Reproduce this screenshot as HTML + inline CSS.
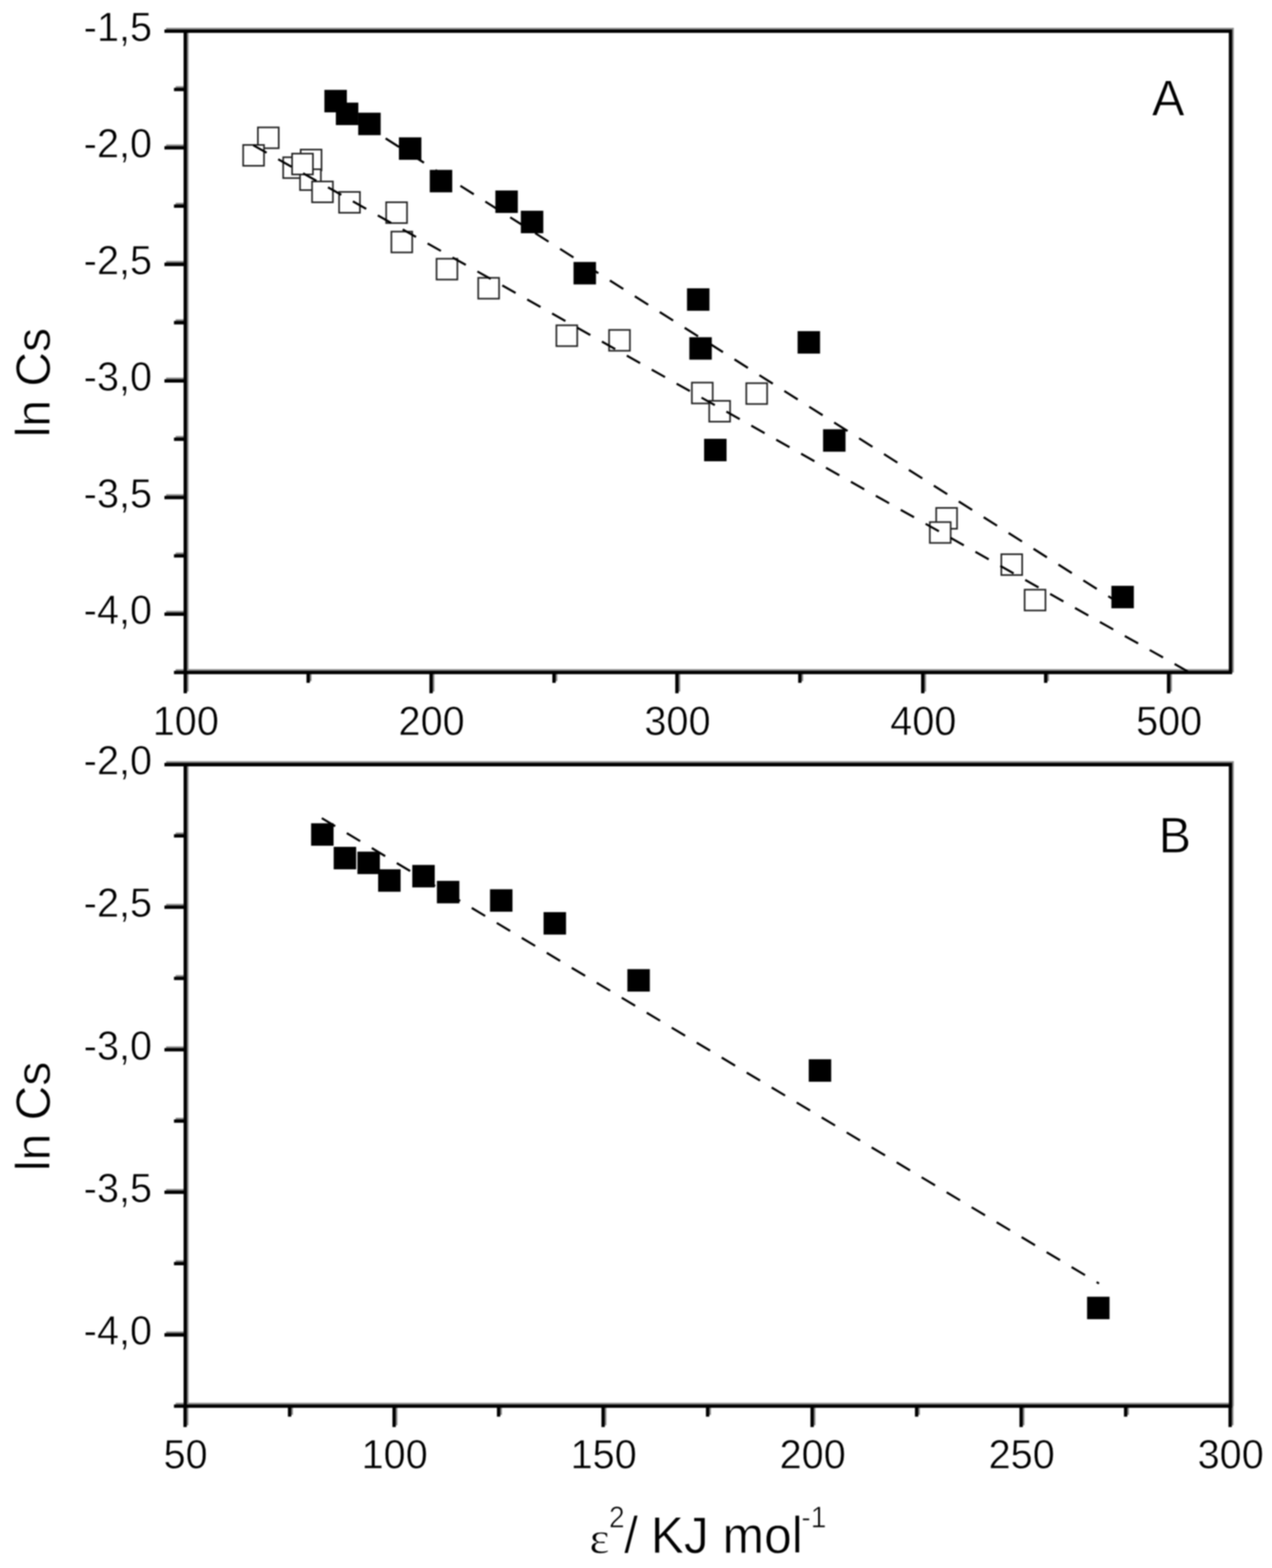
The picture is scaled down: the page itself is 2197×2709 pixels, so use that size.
<!DOCTYPE html>
<html lang="en"><head><meta charset="utf-8"><title>ln Cs vs ε² / KJ mol⁻¹</title>
<style>
html,body{margin:0;padding:0;background:#fff;}
body{width:2197px;height:2709px;}
svg{display:block;filter:blur(1px);}
text{font-family:"Liberation Sans",sans-serif;fill:#000;stroke:#fff;stroke-width:1px;}
.tk{font-size:68.5px;stroke-width:0.8px;}
.ax{fill:none;stroke:#000;stroke-width:5.8;stroke-linecap:butt;}
.sh{fill:none;stroke:#8c8c8c;stroke-width:5.8;stroke-linecap:butt;}
.f{fill:#000;stroke:none;}
.o{fill:#fff;stroke:#222;stroke-width:2.8;}
.d{stroke:#000;stroke-width:3.7;fill:none;}
</style></head><body>
<svg width="2197" height="2709" viewBox="0 0 2197 2709">
<rect width="2197" height="2709" fill="#fff"/>
<g id="axesA">
<path class="sh" transform="translate(2.9,-3.0)" d="M320.00 53.85H2125.30V1161.85H320.00ZM284.00 53.85H320.00M284.00 255.31H320.00M284.00 456.76H320.00M284.00 658.22H320.00M284.00 859.67H320.00M284.00 1061.12H320.00M300.50 154.58H320.00M300.50 356.03H320.00M300.50 557.49H320.00M300.50 758.94H320.00M300.50 960.40H320.00M300.50 1161.85H320.00M320.00 1161.85V1197.85M744.60 1161.85V1197.85M1169.20 1161.85V1197.85M1593.80 1161.85V1197.85M2018.40 1161.85V1197.85M532.30 1161.85V1179.85M956.90 1161.85V1179.85M1381.50 1161.85V1179.85M1806.10 1161.85V1179.85"/>
<path class="ax" d="M320.00 53.85H2125.30V1161.85H320.00ZM284.00 53.85H320.00M284.00 255.31H320.00M284.00 456.76H320.00M284.00 658.22H320.00M284.00 859.67H320.00M284.00 1061.12H320.00M300.50 154.58H320.00M300.50 356.03H320.00M300.50 557.49H320.00M300.50 758.94H320.00M300.50 960.40H320.00M300.50 1161.85H320.00M320.00 1161.85V1197.85M744.60 1161.85V1197.85M1169.20 1161.85V1197.85M1593.80 1161.85V1197.85M2018.40 1161.85V1197.85M532.30 1161.85V1179.85M956.90 1161.85V1179.85M1381.50 1161.85V1179.85M1806.10 1161.85V1179.85"/>
<text class="tk" text-anchor="end" transform="translate(262.6,70.8) scale(1,1.04)">-1,5</text>
<text class="tk" text-anchor="end" transform="translate(262.6,272.2) scale(1,1.04)">-2,0</text>
<text class="tk" text-anchor="end" transform="translate(262.6,473.7) scale(1,1.04)">-2,5</text>
<text class="tk" text-anchor="end" transform="translate(262.6,675.1) scale(1,1.04)">-3,0</text>
<text class="tk" text-anchor="end" transform="translate(262.6,876.6) scale(1,1.04)">-3,5</text>
<text class="tk" text-anchor="end" transform="translate(262.6,1078.0) scale(1,1.04)">-4,0</text>
<text class="tk" text-anchor="middle" transform="translate(320.9,1269.6) scale(1,1.04)">100</text>
<text class="tk" text-anchor="middle" transform="translate(745.5,1269.6) scale(1,1.04)">200</text>
<text class="tk" text-anchor="middle" transform="translate(1170.1,1269.6) scale(1,1.04)">300</text>
<text class="tk" text-anchor="middle" transform="translate(1594.7,1269.6) scale(1,1.04)">400</text>
<text class="tk" text-anchor="middle" transform="translate(2019.3,1269.6) scale(1,1.04)">500</text>
</g>
<g id="openA">
<rect class="o" x="445.40" y="220.10" width="36.00" height="36.00"/>
<rect class="o" x="420.00" y="250.40" width="36.00" height="36.00"/>
<rect class="o" x="519.30" y="258.40" width="36.00" height="36.00"/>
<rect class="o" x="489.10" y="271.70" width="36.00" height="36.00"/>
<rect class="o" x="518.20" y="292.40" width="36.00" height="36.00"/>
<rect class="o" x="504.50" y="265.40" width="36.00" height="36.00"/>
<rect class="o" x="539.00" y="313.50" width="36.00" height="36.00"/>
<rect class="o" x="585.70" y="331.60" width="36.00" height="36.00"/>
<rect class="o" x="667.00" y="349.40" width="36.00" height="36.00"/>
<rect class="o" x="676.00" y="400.10" width="36.00" height="36.00"/>
<rect class="o" x="754.00" y="447.00" width="36.00" height="36.00"/>
<rect class="o" x="826.00" y="480.00" width="36.00" height="36.00"/>
<rect class="o" x="961.00" y="562.00" width="36.00" height="36.00"/>
<rect class="o" x="1052.00" y="570.00" width="36.00" height="36.00"/>
<rect class="o" x="1195.00" y="661.00" width="36.00" height="36.00"/>
<rect class="o" x="1225.00" y="692.50" width="36.00" height="36.00"/>
<rect class="o" x="1289.00" y="662.00" width="36.00" height="36.00"/>
<rect class="o" x="1617.00" y="877.50" width="36.00" height="36.00"/>
<rect class="o" x="1606.00" y="902.00" width="36.00" height="36.00"/>
<rect class="o" x="1729.50" y="957.50" width="36.00" height="36.00"/>
<rect class="o" x="1769.75" y="1018.75" width="36.00" height="36.00"/>
</g>
<g id="solidA">
<rect class="f" x="560.30" y="155.30" width="38.80" height="38.80"/>
<rect class="f" x="580.10" y="177.30" width="38.80" height="38.80"/>
<rect class="f" x="618.70" y="194.70" width="38.80" height="38.80"/>
<rect class="f" x="689.00" y="237.30" width="38.80" height="38.80"/>
<rect class="f" x="742.30" y="293.50" width="38.80" height="38.80"/>
<rect class="f" x="855.60" y="329.10" width="38.80" height="38.80"/>
<rect class="f" x="899.60" y="364.10" width="38.80" height="38.80"/>
<rect class="f" x="990.60" y="452.60" width="38.80" height="38.80"/>
<rect class="f" x="1186.60" y="498.10" width="38.80" height="38.80"/>
<rect class="f" x="1190.60" y="582.60" width="38.80" height="38.80"/>
<rect class="f" x="1377.60" y="572.10" width="38.80" height="38.80"/>
<rect class="f" x="1421.60" y="741.60" width="38.80" height="38.80"/>
<rect class="f" x="1216.10" y="758.10" width="38.80" height="38.80"/>
<rect class="f" x="1919.60" y="1012.10" width="38.80" height="38.80"/>
</g>
<line class="d" stroke-dasharray="26.4 22.96" x1="437.5" y1="251" x2="2051.5" y2="1160"/>
<line class="d" stroke-dasharray="27.4 23.55" x1="580" y1="184.63" x2="1932" y2="1041.25"/>
<text transform="translate(1989.6,199.6) scale(1.02,1.05)" style="font-size:83px">A</text>
<g id="axesB">
<path class="sh" transform="translate(2.9,-3.0)" d="M320.00 1321.00H2125.30V2429.40H320.00ZM284.00 1321.00H320.00M284.00 1567.31H320.00M284.00 1813.62H320.00M284.00 2059.93H320.00M284.00 2306.24H320.00M300.50 1444.15H320.00M300.50 1690.47H320.00M300.50 1936.78H320.00M300.50 2183.09H320.00M300.50 2429.39H320.00M319.70 2429.40V2465.40M680.70 2429.40V2465.40M1041.70 2429.40V2465.40M1402.70 2429.40V2465.40M1763.70 2429.40V2465.40M2124.70 2429.40V2465.40M500.20 2429.40V2447.40M861.20 2429.40V2447.40M1222.20 2429.40V2447.40M1583.20 2429.40V2447.40M1944.20 2429.40V2447.40"/>
<path class="ax" d="M320.00 1321.00H2125.30V2429.40H320.00ZM284.00 1321.00H320.00M284.00 1567.31H320.00M284.00 1813.62H320.00M284.00 2059.93H320.00M284.00 2306.24H320.00M300.50 1444.15H320.00M300.50 1690.47H320.00M300.50 1936.78H320.00M300.50 2183.09H320.00M300.50 2429.39H320.00M319.70 2429.40V2465.40M680.70 2429.40V2465.40M1041.70 2429.40V2465.40M1402.70 2429.40V2465.40M1763.70 2429.40V2465.40M2124.70 2429.40V2465.40M500.20 2429.40V2447.40M861.20 2429.40V2447.40M1222.20 2429.40V2447.40M1583.20 2429.40V2447.40M1944.20 2429.40V2447.40"/>
<text class="tk" text-anchor="end" transform="translate(262.6,1337.9) scale(1,1.04)">-2,0</text>
<text class="tk" text-anchor="end" transform="translate(262.6,1584.2) scale(1,1.04)">-2,5</text>
<text class="tk" text-anchor="end" transform="translate(262.6,1830.5) scale(1,1.04)">-3,0</text>
<text class="tk" text-anchor="end" transform="translate(262.6,2076.8) scale(1,1.04)">-3,5</text>
<text class="tk" text-anchor="end" transform="translate(262.6,2323.1) scale(1,1.04)">-4,0</text>
<text class="tk" text-anchor="middle" transform="translate(320.6,2536.7) scale(1,1.04)">50</text>
<text class="tk" text-anchor="middle" transform="translate(681.6,2536.7) scale(1,1.04)">100</text>
<text class="tk" text-anchor="middle" transform="translate(1042.6,2536.7) scale(1,1.04)">150</text>
<text class="tk" text-anchor="middle" transform="translate(1403.6,2536.7) scale(1,1.04)">200</text>
<text class="tk" text-anchor="middle" transform="translate(1764.6,2536.7) scale(1,1.04)">250</text>
<text class="tk" text-anchor="middle" transform="translate(2125.6,2536.7) scale(1,1.04)">300</text>
</g>
<g id="solidB">
<rect class="f" x="537.35" y="1422.35" width="38.80" height="38.80"/>
<rect class="f" x="576.35" y="1463.10" width="38.80" height="38.80"/>
<rect class="f" x="617.35" y="1471.35" width="38.80" height="38.80"/>
<rect class="f" x="653.10" y="1501.85" width="38.80" height="38.80"/>
<rect class="f" x="712.10" y="1494.35" width="38.80" height="38.80"/>
<rect class="f" x="754.60" y="1521.85" width="38.80" height="38.80"/>
<rect class="f" x="846.35" y="1536.35" width="38.80" height="38.80"/>
<rect class="f" x="938.85" y="1575.85" width="38.80" height="38.80"/>
<rect class="f" x="1083.60" y="1674.35" width="38.80" height="38.80"/>
<rect class="f" x="1396.85" y="1830.10" width="38.80" height="38.80"/>
<rect class="f" x="1877.60" y="2240.35" width="38.80" height="38.80"/>
</g>
<line class="d" stroke-dasharray="27 23.32" x1="555.8" y1="1413.5" x2="1898.2" y2="2217.5"/>
<text transform="translate(2001.3,1473.3) scale(1,1.035)" style="font-size:84px">B</text>
<text transform="translate(85.5,755.6) rotate(-90)" style="font-size:83px">ln Cs</text>
<text transform="translate(85.5,2023.3) rotate(-90)" style="font-size:83px">ln Cs</text>
<g id="xtitle">
<text transform="translate(1018,2683) scale(1.09,1)" style="font-family:'Liberation Serif','DejaVu Serif',serif;font-size:76px">ε</text>
<text transform="translate(1051.8,2638.8) scale(0.94,1)" style="font-size:52px">2</text>
<text transform="translate(0,2683.4) scale(1,1.035)" style="font-size:86px"><tspan x="1078">/</tspan><tspan x="1100"> KJ mol</tspan></text>
<text transform="translate(1384,2638.8) scale(0.94,1)" style="font-size:52px">-1</text>
</g>
</svg>
</body></html>
